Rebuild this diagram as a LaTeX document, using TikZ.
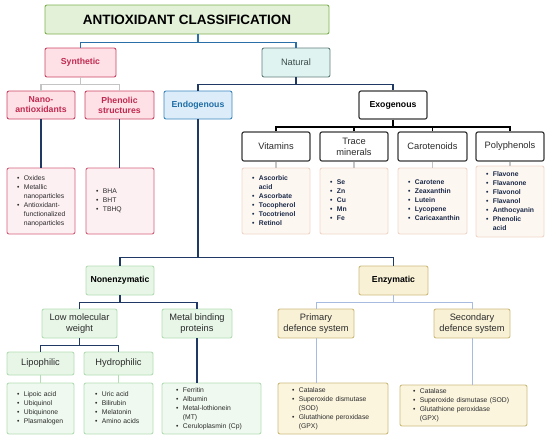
\documentclass[tikz,border=0pt]{standalone}
\usepackage{fontspec}
\setmainfont{Liberation Sans}
\usepackage{xcolor}
\usetikzlibrary{calc}

\definecolor{navy}{HTML}{1F3864}
\definecolor{linkblue}{HTML}{2A6FA8}
\definecolor{linkgray}{HTML}{C4C4C4}
\definecolor{steel}{HTML}{A7BADF}
\definecolor{titlefill}{HTML}{E3F1D8}
\definecolor{titledraw}{HTML}{7DB24E}
\definecolor{synfill}{HTML}{FDE1E7}
\definecolor{syndraw}{HTML}{CB4463}
\definecolor{syntext}{HTML}{C1294F}
\definecolor{synlist}{HTML}{FDF0F3}
\definecolor{natfill}{HTML}{DFF3F0}
\definecolor{natdraw}{HTML}{627E7C}
\definecolor{nattext}{HTML}{3E4D4D}
\definecolor{endofill}{HTML}{DCEDF9}
\definecolor{endodraw}{HTML}{3A86C0}
\definecolor{endotext}{HTML}{1E6CA6}
\definecolor{exodraw}{HTML}{3A3A3A}
\definecolor{exolist}{HTML}{FDF7F2}
\definecolor{exolistdraw}{HTML}{F0D6C8}
\definecolor{exotext}{HTML}{1B2A48}
\definecolor{greenfill}{HTML}{E8F6E8}
\definecolor{greendraw}{HTML}{B3DDB3}
\definecolor{greenlist}{HTML}{EFF9EF}
\definecolor{yelfill}{HTML}{F8F1D6}
\definecolor{yeldraw}{HTML}{CDBB7C}
\definecolor{yellist}{HTML}{FBF5DE}
\definecolor{boxtext}{HTML}{2B2B2B}

\newcommand{\lst}[1]{\begin{tabular}{@{}l@{\hspace{4.5pt}}l@{}}#1\end{tabular}}
\newcommand{\itm}{\textbullet &}

\tikzset{
  box/.style={draw, rounded corners=2pt, line width=0.9pt, align=center, inner sep=0pt},
  hd/.style={font=\fontsize{8.7}{10}\selectfont\bfseries},
  rg/.style={font=\fontsize{9.3}{10.8}\selectfont, text=boxtext},
  titlebox/.style={box, fill=titlefill, draw=titledraw, font=\fontsize{13.5}{16}\selectfont\bfseries},
  synbox/.style={box, hd, fill=synfill, draw=syndraw, text=syntext},
  natbox/.style={box, rg, fill=natfill, draw=natdraw, text=nattext},
  endobox/.style={box, hd, fill=endofill, draw=endodraw, text=endotext},
  exobox/.style={box, hd, fill=white, draw=exodraw, line width=1.2pt},
  sortbox/.style={box, rg, fill=white, draw=exodraw, line width=1.2pt},
  greenhd/.style={box, hd, fill=greenfill, draw=greendraw},
  greenbox/.style={box, rg, fill=greenfill, draw=greendraw},
  yelhd/.style={box, hd, fill=yelfill, draw=yeldraw},
  yelbox/.style={box, rg, fill=yelfill, draw=yeldraw},
  listbox/.style={draw, rounded corners=2pt, line width=0.9pt, align=left,
    inner xsep=10pt, inner ysep=0pt, text=boxtext, font=\fontsize{6.8}{9}\selectfont},
  synlst/.style={listbox, fill=synlist, draw=syndraw!85},
  exolst/.style={listbox, fill=exolist, draw=exolistdraw, text=exotext,
    font=\fontsize{6.8}{9}\selectfont\bfseries},
  greenlst/.style={listbox, fill=greenlist, draw=greendraw},
  yellst/.style={listbox, fill=yellist, draw=yeldraw, inner xsep=14pt},
  bluelink/.style={draw=linkblue, line width=1.6pt},
  graylink/.style={draw=linkgray, line width=1.6pt},
  navylink/.style={draw=navy, line width=1.6pt},
  blacklink/.style={draw=black, line width=1.8pt},
  greenlink/.style={draw=greendraw, line width=1.3pt},
  steellink/.style={draw=steel, line width=0.9pt}
}

\begin{document}
\begin{tikzpicture}[x=1pt,y=-1pt]
\useasboundingbox (0,0) rectangle (550,440);

% top
\node[titlebox, minimum width=284, minimum height=29] (title) at (187,19.5) {ANTIOXIDANT CLASSIFICATION};
\node[synbox, minimum width=71, minimum height=29] (syn) at (80.5,62.5) {Synthetic};
\node[natbox, minimum width=68, minimum height=29] (nat) at (296,62.5) {Natural};

% synthetic side
\node[synbox, minimum width=68, minimum height=28] (nano) at (41,105) {Nano-\\antioxidants};
\node[synbox, minimum width=69, minimum height=28] (phen) at (119.5,105) {Phenolic\\structures};
\node[synlst, text width=48, minimum height=66] (nanol) at (41,201) {\lst{\itm Oxides\\ \itm Metallic\\ & nanoparticles\\ \itm Antioxidant-\\ & functionalized\\ & nanoparticles}};
\node[synlst, text width=48, minimum height=66] (phenl) at (120,201) {\lst{\itm BHA\\ \itm BHT\\ \itm TBHQ}};

% natural side
\node[endobox, minimum width=68, minimum height=28] (endo) at (198,105) {Endogenous};
\node[exobox, minimum width=68, minimum height=28] (exo) at (393,105) {Exogenous};

\node[sortbox, minimum width=68, minimum height=29] (vit) at (276,146.5) {Vitamins};
\node[sortbox, minimum width=68, minimum height=29] (trace) at (354,146.5) {Trace\\minerals};
\node[sortbox, minimum width=69, minimum height=29] (caro) at (432.5,146.5) {Carotenoids};
\node[sortbox, minimum width=68, minimum height=29] (poly) at (510,146.5) {Polyphenols};

\node[exolst, text width=48, minimum height=66] (vitl) at (276,201) {\lst{\itm Ascorbic\\ & acid\\ \itm Ascorbate\\ \itm Tocopherol\\ \itm Tocotrienol\\ \itm Retinol}};
\node[exolst, text width=48, minimum height=66] (tracel) at (354,201) {\lst{\itm Se\\ \itm Zn\\ \itm Cu\\ \itm Mn\\ \itm Fe}};
\node[exolst, text width=49, minimum height=66] (carol) at (432.5,201) {\lst{\itm Carotene\\ \itm Zeaxanthin\\ \itm Lutein\\ \itm Lycopene\\ \itm Caricaxanthin}};
\node[exolst, text width=48, minimum height=71] (polyl) at (510,201.5) {\lst{\itm Flavone\\ \itm Flavanone\\ \itm Flavonol\\ \itm Flavanol\\ \itm Anthocyanin\\ \itm Phenolic\\ & acid}};

% endogenous branch
\node[greenhd, minimum width=68, minimum height=29] (nonenz) at (120,280.5) {Nonenzymatic};
\node[yelhd, minimum width=69, minimum height=29] (enz) at (393.5,280.5) {Enzymatic};

\node[greenbox, minimum width=75, minimum height=29] (lmw) at (79.5,323.5) {Low molecular\\weight};
\node[greenbox, minimum width=70, minimum height=29] (metal) at (197,323.5) {Metal binding\\proteins};
\node[greenbox, minimum width=67, minimum height=23] (lipo) at (40.5,363.5) {Lipophilic};
\node[greenbox, minimum width=69, minimum height=23] (hydro) at (118.5,363.5) {Hydrophilic};

\node[greenlst, text width=47, minimum height=51] (lipol) at (40.5,408.5) {\lst{\itm Lipoic acid\\ \itm Ubiquinol\\ \itm Ubiquinone\\ \itm Plasmalogen}};
\node[greenlst, text width=47, minimum height=51, inner xsep=11pt] (hydrol) at (118.5,408.5) {\lst{\itm Uric acid\\ \itm Bilirubin\\ \itm Melatonin\\ \itm Amino acids}};
\node[greenlst, text width=71, minimum height=51, inner xsep=14pt] (metall) at (211.5,408.5) {\lst{\itm Ferritin\\ \itm Albumin\\ \itm Metal-lothionein\\ & (MT)\\ \itm Ceruloplasmin (Cp)}};

\node[yelbox, minimum width=76, minimum height=29] (prim) at (316,323.5) {Primary\\defence system};
\node[yelbox, minimum width=76, minimum height=29] (sec) at (472,323.5) {Secondary\\defence system};
\node[yellst, text width=82, minimum height=51] (priml) at (333,408.5) {\lst{\itm Catalase\\ \itm Superoxide dismutase\\ & (SOD)\\ \itm Glutathione peroxidase\\ & (GPX)}};
\node[yellst, text width=101, minimum height=41, inner xsep=13pt] (secl) at (463.5,405.5) {\lst{\itm Catalase\\ \itm Superoxide dismutase (SOD)\\ \itm Glutathione peroxidase\\ & (GPX)}};

% connectors
\draw[bluelink] (title.south -| endo.north) -- ++(0,8) coordinate (tb);
\draw[bluelink] (syn.north) |- (tb) -| (nat.north);

\draw[graylink] (syn.south) -- ++(0,7) coordinate (sb);
\draw[graylink] (nano.north) |- (sb) -| (phen.north);
\draw[navylink] (nano.south) -- (nano.south |- nanol.north);
\draw[navylink] (phen.south) -- (phen.south |- phenl.north);

\draw[navylink] (nat.south) -- ++(0,7) coordinate (nb);
\draw[navylink] (endo.north) |- (nb) -| (exo.north);

\draw[blacklink] (exo.south) -- ++(0,7) coordinate (xb);
\draw[blacklink] (vit.north) |- (xb) -| (poly.north);
\draw[blacklink] (trace.north) -- (trace.north |- xb);
\draw[blacklink] (caro.north) -- (caro.north |- xb);
\foreach \a/\b in {vit/vitl, trace/tracel, caro/carol, poly/polyl}
  \draw[graylink] (\a.south) -- (\a.south |- \b.north);

\draw[navylink] (endo.south) -- ++(0,138) coordinate (eb);
\draw[navylink] (nonenz.north) |- (eb) -| (enz.north);

\draw[navylink] (nonenz.south) -- ++(0,7) coordinate (nzb);
\draw[navylink] (lmw.north) |- (nzb) -| (metal.north);
\draw[navylink] (lmw.south) -- ++(0,7) coordinate (lb);
\draw[navylink] (lipo.north) |- (lb) -| (hydro.north);
\draw[greenlink] (lipo.south) -- (lipo.south |- lipol.north);
\draw[greenlink] (hydro.south) -- (hydro.south |- hydrol.north);
\draw[navylink] (metal.south) -- (metal.south |- metall.north);

\draw[steellink] (enz.south) -- ++(0,7) coordinate (zb);
\draw[steellink] (prim.north) |- (zb) -| (sec.north);
\draw[steellink] (prim.south) -- (prim.south |- priml.north);
\draw[steellink] (sec.south) -- (sec.south |- secl.north);
\end{tikzpicture}
\end{document}
